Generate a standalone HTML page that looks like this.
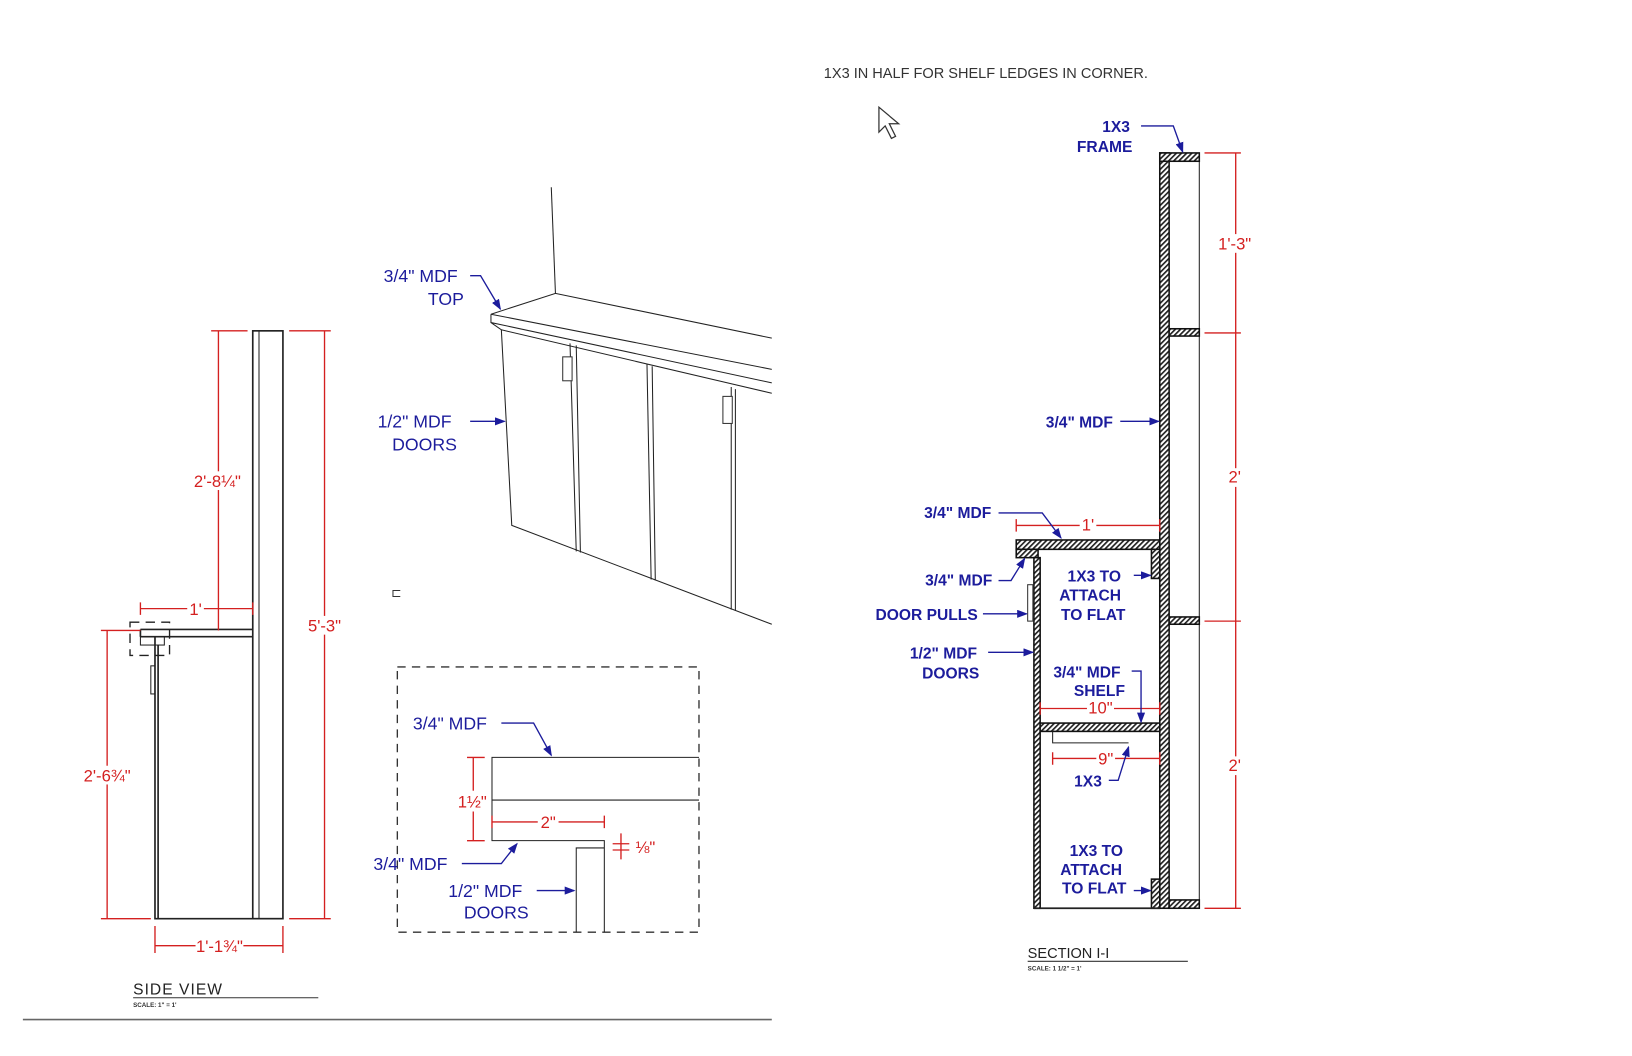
<!DOCTYPE html>
<html><head><meta charset="utf-8"><style>
html,body{margin:0;padding:0;background:#fff;}
svg{display:block;}
.b{fill:#1c1c9c;font-family:"Liberation Sans",sans-serif;font-size:17px;}
.bs{fill:#1c1c9c;font-family:"Liberation Sans",sans-serif;font-size:15px;font-weight:bold;}
.r{fill:#d42020;font-family:"Liberation Sans",sans-serif;font-size:16px;}
.k{stroke:#222;fill:none;stroke-width:1.6;}
.kt{stroke:#222;fill:none;stroke-width:1;}
.rl{stroke:#d42020;fill:none;stroke-width:1.3;}
.bl{stroke:#1c1c9c;fill:none;stroke-width:1.3;}
.h{fill:url(#hat);stroke:#111;stroke-width:1.5;}
</style></head><body>
<svg width="1632" height="1056" viewBox="0 0 1569 1015" preserveAspectRatio="none" xmlns="http://www.w3.org/2000/svg">
<defs>
<pattern id="hat" width="3.5" height="3.5" patternUnits="userSpaceOnUse" patternTransform="rotate(45)">
<rect width="3.5" height="3.5" fill="#fff"/><rect width="1.6" height="3.5" fill="#222"/></pattern>
<marker id="a" markerWidth="8" markerHeight="6" refX="7" refY="3" orient="auto"><path d="M0,0L8,3L0,6z" fill="#1c1c9c"/></marker>
</defs>

<!-- top note -->
<text x="792" y="75" font-family="Liberation Sans,sans-serif" font-size="14" fill="#333">1X3 IN HALF FOR SHELF LEDGES IN CORNER.</text>
<path d="M845,103 L845,127 L851,121 L857,133 L861,131 L855,119 L864,119 Z" fill="#fff" stroke="#333" stroke-width="1.2"/>

<!-- SECTION -->
<rect class="h" x="1115" y="147" width="9" height="726"/>
<line class="kt" x1="1153" y1="147" x2="1153" y2="873" stroke-width="1.5"/>
<rect class="h" x="1115" y="147" width="38" height="8"/>
<rect class="h" x="1124" y="316" width="29" height="7"/>
<rect class="h" x="1124" y="593" width="29" height="7"/>
<rect class="h" x="1124" y="865" width="29" height="8"/>
<line class="rl" x1="1188" y1="147" x2="1188" y2="873"/>
<path class="rl" d="M1158,147H1193M1158,320H1193M1158,597H1193M1158,873H1193M1183,320H1193M1183,597H1193"/>
<rect x="1170" y="225" width="36" height="18" fill="#fff"/><text class="r" x="1187" y="240" text-anchor="middle">1'-3"</text>
<rect x="1178" y="450" width="18" height="18" fill="#fff"/><text class="r" x="1187" y="464" text-anchor="middle">2'</text>
<rect x="1178" y="727" width="18" height="18" fill="#fff"/><text class="r" x="1187" y="741" text-anchor="middle">2'</text>

<rect class="h" x="977" y="519" width="138" height="9"/>
<rect class="h" x="977" y="528" width="21" height="8"/>
<rect class="h" x="994" y="536" width="6" height="337"/>
<rect x="988" y="562" width="5" height="35" fill="#fff" stroke="#333" stroke-width="1"/>
<rect class="h" x="1000" y="695" width="115" height="8"/>
<path class="kt" d="M1012,703V714H1085" stroke-width="1.3"/>
<rect class="h" x="1107" y="528" width="8" height="28"/>
<rect class="h" x="1107" y="845" width="8" height="28"/>
<line class="k" x1="994" y1="873" x2="1115" y2="873"/>

<line class="rl" x1="977" y1="505" x2="1115" y2="505"/><path class="rl" d="M977,499V511M1115,499V511"/>
<rect x="1038" y="496" width="16" height="16" fill="#fff"/><text class="r" x="1046" y="510" text-anchor="middle">1'</text>
<line class="rl" x1="1000" y1="681" x2="1115" y2="681"/><path class="rl" d="M1000,675V687M1115,675V687"/>
<rect x="1045" y="672" width="26" height="16" fill="#fff"/><text class="r" x="1058" y="686" text-anchor="middle">10"</text>
<line class="rl" x1="1012" y1="729" x2="1115" y2="729"/><path class="rl" d="M1012,723V735M1115,723V735"/>
<rect x="1054" y="720" width="18" height="16" fill="#fff"/><text class="r" x="1063" y="735" text-anchor="middle">9"</text>

<text class="bs" x="1073" y="127" text-anchor="middle">1X3</text>
<text class="bs" x="1062" y="146" text-anchor="middle">FRAME</text>
<path class="bl" d="M1097,121H1128L1137,146" marker-end="url(#a)"/>
<text class="bs" x="1070" y="411" text-anchor="end">3/4" MDF</text>
<path class="bl" d="M1077,405H1114" marker-end="url(#a)"/>
<text class="bs" x="953" y="498" text-anchor="end">3/4" MDF</text>
<path class="bl" d="M960,493H1002L1020,517" marker-end="url(#a)"/>
<text class="bs" x="954" y="563" text-anchor="end">3/4" MDF</text>
<path class="bl" d="M960,558H972L985,537" marker-end="url(#a)"/>
<text class="bs" x="940" y="596" text-anchor="end">DOOR PULLS</text>
<path class="bl" d="M945,590H987" marker-end="url(#a)"/>
<text class="bs" x="907" y="633" text-anchor="middle">1/2" MDF</text>
<text class="bs" x="914" y="652" text-anchor="middle">DOORS</text>
<path class="bl" d="M950,627H993" marker-end="url(#a)"/>
<text class="bs" x="1052" y="559" text-anchor="middle">1X3 TO</text>
<text class="bs" x="1048" y="577" text-anchor="middle">ATTACH</text>
<text class="bs" x="1051" y="596" text-anchor="middle">TO FLAT</text>
<path class="bl" d="M1090,553H1106" marker-end="url(#a)"/>
<text class="bs" x="1045" y="651" text-anchor="middle">3/4" MDF</text>
<text class="bs" x="1057" y="669" text-anchor="middle">SHELF</text>
<path class="bl" d="M1088,645H1097V694" marker-end="url(#a)"/>
<text class="bs" x="1046" y="756" text-anchor="middle">1X3</text>
<path class="bl" d="M1066,750H1075L1085,718" marker-end="url(#a)"/>
<text class="bs" x="1054" y="823" text-anchor="middle">1X3 TO</text>
<text class="bs" x="1049" y="841" text-anchor="middle">ATTACH</text>
<text class="bs" x="1052" y="859" text-anchor="middle">TO FLAT</text>
<path class="bl" d="M1090,856H1106" marker-end="url(#a)"/>
<text x="988" y="921" font-family="Liberation Sans,sans-serif" font-size="14" fill="#222">SECTION I-I</text>
<line x1="988" y1="924" x2="1142" y2="924" stroke="#333" stroke-width="1"/>
<text x="988" y="933" font-family="Liberation Sans,sans-serif" font-size="6" font-weight="bold" fill="#333">SCALE: 1 1/2" = 1'</text>

<!-- SIDE VIEW -->
<rect class="k" x="243" y="318" width="29" height="565"/>
<line class="kt" x1="249" y1="318" x2="249" y2="883"/>
<path class="k" d="M135,605H243M135,612H243M135,605V612"/>
<path class="k" d="M149,612V883H243M152,620V883"/>
<rect x="135" y="612" width="23" height="8" fill="none" stroke="#222" stroke-width="1"/>
<rect x="145" y="640" width="4" height="27" fill="none" stroke="#222" stroke-width="1"/>
<rect x="125" y="598" width="38" height="32" fill="none" stroke="#222" stroke-width="1.3" stroke-dasharray="9,6"/>
<line class="rl" x1="210" y1="318" x2="210" y2="606"/><path class="rl" d="M203,318H238"/>
<rect x="185" y="453" width="48" height="18" fill="#fff"/><text class="r" x="209" y="468" text-anchor="middle">2'-8¼"</text>
<line class="rl" x1="312" y1="318" x2="312" y2="883"/><path class="rl" d="M278,318H318M278,883H318"/>
<rect x="290" y="592" width="44" height="18" fill="#fff"/><text class="r" x="312" y="607" text-anchor="middle">5'-3"</text>
<line class="rl" x1="103" y1="606" x2="103" y2="883"/><path class="rl" d="M97,606H135M97,883H145"/>
<rect x="78" y="736" width="50" height="18" fill="#fff"/><text class="r" x="103" y="751" text-anchor="middle">2'-6¾"</text>
<line class="rl" x1="135" y1="585" x2="243" y2="585"/><path class="rl" d="M135,579V591M243,579V591"/>
<rect x="180" y="577" width="16" height="16" fill="#fff"/><text class="r" x="188" y="591" text-anchor="middle">1'</text>
<line class="rl" x1="149" y1="909" x2="272" y2="909"/><path class="rl" d="M149,890V916M272,890V916"/>
<rect x="188" y="900" width="46" height="18" fill="#fff"/><text class="r" x="211" y="915" text-anchor="middle">1'-1¾"</text>
<text x="128" y="956" font-family="Liberation Sans,sans-serif" font-size="15" fill="#222" letter-spacing="1">SIDE VIEW</text>
<line x1="128" y1="959" x2="306" y2="959" stroke="#333" stroke-width="1"/>
<text x="128" y="968" font-family="Liberation Sans,sans-serif" font-size="6" font-weight="bold" fill="#333">SCALE: 1" = 1'</text>
<line x1="22" y1="980" x2="742" y2="980" stroke="#666" stroke-width="1.5"/>

<!-- 3D view -->
<path class="kt" d="M530,180L534,282" stroke-width="1.3"/>
<path class="kt" stroke-width="1.3" d="M472,302L534,282L742,325M472,302L742,355M472,302V310L742,368M472,310L482,317L742,378M482,317L492,505L742,600"/>
<path class="kt" stroke-width="1.3" d="M548,330L554,530M554,332L558,531M622,350L626,557M627,352L630,558M703,372L703,586M707,374L707,587"/>
<rect x="541" y="343" width="9" height="23" fill="#fff" stroke="#333" stroke-width="1"/>
<rect x="695" y="381" width="9" height="26" fill="#fff" stroke="#333" stroke-width="1"/>
<text x="376" y="574" font-family="Liberation Sans,sans-serif" font-size="12" fill="#333">⊏</text>
<text class="b" x="440" y="271" text-anchor="end">3/4" MDF</text>
<text class="b" x="446" y="293" text-anchor="end">TOP</text>
<path class="bl" d="M452,265H462L481,297" marker-end="url(#a)"/>
<text class="b" x="363" y="411">1/2" MDF</text>
<text class="b" x="377" y="433">DOORS</text>
<path class="bl" d="M452,405H485" marker-end="url(#a)"/>

<!-- detail -->
<rect x="382" y="641" width="290" height="255" fill="none" stroke="#333" stroke-width="1.3" stroke-dasharray="8,6"/>
<path class="kt" stroke-width="1.4" d="M672,728H473V808H581V896M473,769H672M554,896V815H581"/>
<line class="rl" x1="455" y1="728" x2="455" y2="808"/><path class="rl" d="M449,728H466M449,808H466"/>
<rect x="444" y="760" width="20" height="20" fill="#fff"/><text class="r" x="454" y="776" text-anchor="middle" font-size="13">1½"</text>
<line class="rl" x1="473" y1="790" x2="581" y2="790"/><path class="rl" d="M473,784V796M581,784V796"/>
<rect x="517" y="781" width="20" height="16" fill="#fff"/><text class="r" x="527" y="796" text-anchor="middle">2"</text>
<path class="rl" d="M597,801V826M589,811H605M589,817H605"/>
<text class="r" x="611" y="820" font-size="13">⅛"</text>
<text class="b" x="397" y="701">3/4" MDF</text>
<path class="bl" d="M482,695H513L530,726" marker-end="url(#a)"/>
<text class="b" x="359" y="836">3/4" MDF</text>
<path class="bl" d="M444,830H482L497,811" marker-end="url(#a)"/>
<text class="b" x="431" y="862">1/2" MDF</text>
<text class="b" x="446" y="883">DOORS</text>
<path class="bl" d="M516,856H552" marker-end="url(#a)"/>
</svg>
</body></html>
